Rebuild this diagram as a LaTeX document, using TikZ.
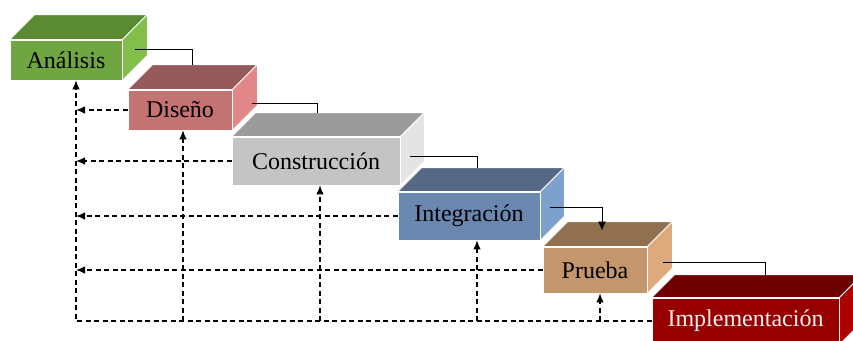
\documentclass[tikz,border=0pt]{standalone}
\usepackage{fontspec}
\setmainfont{Liberation Serif}
\usetikzlibrary{calc,arrows.meta}
\definecolor{anaF}{HTML}{70A642}
\definecolor{anaT}{HTML}{5A8A32}
\definecolor{anaS}{HTML}{82BE4A}
\definecolor{disF}{HTML}{C47373}
\definecolor{disT}{HTML}{965A5A}
\definecolor{disS}{HTML}{E18787}
\definecolor{conF}{HTML}{C4C4C4}
\definecolor{conT}{HTML}{9B9B9B}
\definecolor{conS}{HTML}{E4E4E4}
\definecolor{intF}{HTML}{6987AF}
\definecolor{intT}{HTML}{556987}
\definecolor{intS}{HTML}{7DA0CD}
\definecolor{pruF}{HTML}{C3966E}
\definecolor{pruT}{HTML}{917050}
\definecolor{pruS}{HTML}{DCAA7D}
\definecolor{impF}{HTML}{960000}
\definecolor{impT}{HTML}{6E0000}
\definecolor{impS}{HTML}{AF0000}
\definecolor{impText}{HTML}{FFF0F0}
\newcommand\boxfaces[4]{%
  \filldraw[face,fill=#3] (#1.north west) -- ++(#2,-#2) -- ($(#1.north east)+(#2,-#2)$) -- (#1.north east) -- cycle;
  \filldraw[face,fill=#4] (#1.north east) -- ++(#2,-#2) -- ($(#1.south east)+(#2,-#2)$) -- (#1.south east) -- cycle;}
\begin{document}
\begin{tikzpicture}[x=1pt,y=-1pt,
  face/.style={draw=white, line width=0.8pt, line join=miter},
  frontbox/.style={face, inner sep=0pt, font=\fontsize{24}{27}\selectfont, text=black},
  link/.style={draw=black, line width=0.9pt},
  fb/.style={draw=black, line width=1.1pt, dash pattern=on 5pt off 3.5pt, -{Latex[length=9pt,width=7.5pt]}}]
\clip (0,0) rectangle (853,340);
\fill[white] (0,0) rectangle (853,340);
% boxes
\node[frontbox, fill=anaF, minimum width=112pt, minimum height=40pt] (ana) at (66,60) {Análisis};
\boxfaces{ana}{25}{anaT}{anaS}
\node[frontbox, fill=disF, minimum width=104pt, minimum height=40pt] (dis) at (180,110) {Diseño};
\boxfaces{dis}{25}{disT}{disS}
\node[frontbox, fill=conF, minimum width=168pt, minimum height=48pt] (con) at (316,161) {Construcción};
\boxfaces{con}{24}{conT}{conS}
\node[frontbox, fill=intF, minimum width=142pt, minimum height=48pt] (int) at (469,216) {Integración};
\boxfaces{int}{24}{intT}{intS}
\node[frontbox, fill=pruF, minimum width=104pt, minimum height=46pt] (pru) at (595,270) {Prueba};
\boxfaces{pru}{25}{pruT}{pruS}
\node[frontbox, fill=impF, text=impText, minimum width=187pt, minimum height=46pt] (imp) at (745.5,321) {Implementación};
\boxfaces{imp}{23}{impT}{impS}
% solid forward links
\coordinate (s1) at ($(ana.east)+(13,-11)$);
\coordinate (t1) at ($(dis.north)+(12,-25)$);
\coordinate (s2) at ($(dis.east)+(20,-7)$);
\coordinate (t2) at ($(con.north)+(1,-24)$);
\coordinate (s3) at ($(con.east)+(10,-5)$);
\coordinate (t3) at ($(int.north)+(8,-24)$);
\coordinate (s4) at ($(int.east)+(10,-9)$);
\coordinate (t4) at ($(pru.north)+(7,-16)$);
\coordinate (s5) at ($(pru.east)+(16,-8)$);
\coordinate (t5) at ($(imp.north)+(20,-23)$);
\draw[link] (s1) -| (t1);
\draw[link] (s2) -| (t2);
\draw[link] (s3) -| (t3);
\draw[link, -{Latex[length=9pt,width=8pt]}] (s4) -| (t4);
\draw[link] (s5) -| (t5);
% dashed feedback
\coordinate (L0) at ($(ana.south)+(10,0)$);
\draw[fb] (dis.west) -- (dis.west -| L0);
\draw[fb] (con.west) -- (con.west -| L0);
\draw[fb] (int.west) -- (int.west -| L0);
\draw[fb] (pru.west) -- (pru.west -| L0);
\draw[fb] (imp.west) -| (L0);
\coordinate (v1) at ($(dis.south)+(3,0)$);
\coordinate (v2) at ($(con.south)+(4,0)$);
\coordinate (v3) at ($(int.south)+(8,0)$);
\coordinate (v4) at ($(pru.south)+(5,0)$);
\draw[fb] (v1 |- imp.west) -- (v1);
\draw[fb] (v2 |- imp.west) -- (v2);
\draw[fb] (v3 |- imp.west) -- (v3);
\draw[fb] (v4 |- imp.west) -- (v4);
\end{tikzpicture}
\end{document}
